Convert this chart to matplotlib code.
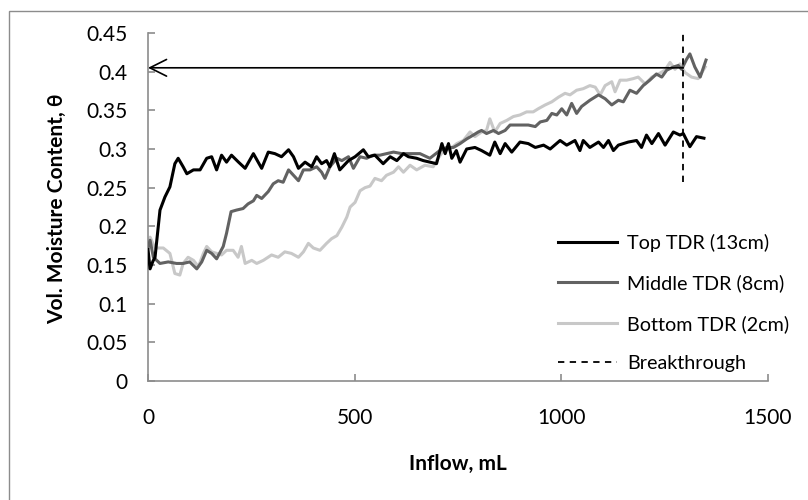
import matplotlib
matplotlib.use("Agg")
import matplotlib.pyplot as plt
from matplotlib.patches import Rectangle

plt.rcParams['font.family'] = ['Lato', 'DejaVu Sans']

# ---- data ----
top_x = [0, 5, 12, 17, 29, 41, 53, 65, 73, 85, 94, 110, 126, 142, 154, 166, 178, 190, 202, 219, 235,
         255, 275, 291, 307, 323, 340, 352, 364, 380, 396, 408, 420, 432, 440, 451, 464, 485, 501,
         521, 533, 549, 569, 586, 602, 618, 630, 650, 666, 682, 698, 711, 719, 727, 735, 746, 755,
         771, 791, 807, 827, 839, 852, 864, 880, 900, 920, 937, 957, 973, 997, 1013, 1033, 1045,
         1053, 1069, 1090, 1102, 1114, 1126, 1138, 1162, 1182, 1194, 1206, 1219, 1235, 1251, 1271,
         1287, 1295, 1311, 1327, 1345]
top_y = [0.170, 0.145, 0.155, 0.160, 0.221, 0.238, 0.251, 0.281, 0.288, 0.277, 0.268, 0.273, 0.273,
         0.288, 0.290, 0.273, 0.292, 0.283, 0.292, 0.283, 0.275, 0.294, 0.275, 0.296, 0.294, 0.290,
         0.299, 0.290, 0.275, 0.283, 0.277, 0.290, 0.281, 0.285, 0.277, 0.294, 0.273, 0.285, 0.290,
         0.299, 0.290, 0.292, 0.281, 0.290, 0.285, 0.294, 0.290, 0.288, 0.285, 0.283, 0.281, 0.307,
         0.294, 0.307, 0.288, 0.298, 0.283, 0.300, 0.302, 0.298, 0.292, 0.309, 0.294, 0.307, 0.296,
         0.309, 0.307, 0.302, 0.305, 0.300, 0.311, 0.305, 0.311, 0.298, 0.311, 0.302, 0.309, 0.302,
         0.311, 0.298, 0.305, 0.309, 0.311, 0.302, 0.318, 0.307, 0.320, 0.305, 0.322, 0.318, 0.320,
         0.303, 0.316, 0.314]

mid_x = [0, 5, 13, 29, 49, 69, 85, 101, 118, 130, 142, 154, 166, 182, 190, 201, 214, 230, 242, 255,
         263, 275, 291, 303, 315, 327, 340, 352, 364, 376, 392, 408, 420, 428, 440, 457, 469, 485,
         497, 513, 529, 545, 561, 577, 594, 614, 634, 658, 682, 706, 723, 739, 755, 771, 787, 799,
         807, 819, 836, 848, 864, 876, 892, 908, 920, 937, 949, 965, 977, 989, 1001, 1013, 1025,
         1037, 1049, 1069, 1090, 1106, 1122, 1138, 1150, 1166, 1182, 1198, 1214, 1230, 1243, 1255,
         1271, 1283, 1291, 1303, 1311, 1323, 1336, 1350]
mid_y = [0.172, 0.182, 0.160, 0.152, 0.154, 0.152, 0.152, 0.154, 0.145, 0.154, 0.169, 0.165, 0.158,
         0.174, 0.191, 0.219, 0.221, 0.223, 0.229, 0.233, 0.240, 0.236, 0.245, 0.255, 0.259, 0.257,
         0.273, 0.266, 0.259, 0.273, 0.273, 0.277, 0.270, 0.262, 0.277, 0.288, 0.285, 0.290, 0.275,
         0.290, 0.288, 0.292, 0.292, 0.294, 0.296, 0.294, 0.294, 0.294, 0.288, 0.298, 0.302, 0.302,
         0.307, 0.313, 0.318, 0.322, 0.324, 0.320, 0.324, 0.320, 0.324, 0.331, 0.331, 0.331, 0.331,
         0.329, 0.335, 0.337, 0.346, 0.344, 0.352, 0.344, 0.359, 0.346, 0.355, 0.363, 0.370, 0.365,
         0.357, 0.363, 0.361, 0.376, 0.372, 0.382, 0.389, 0.397, 0.393, 0.402, 0.406, 0.408, 0.403,
         0.416, 0.423, 0.406, 0.393, 0.415]

bot_x = [0, 5, 17, 37, 53, 65, 77, 85, 97, 110, 122, 134, 142, 154, 166, 178, 190, 206, 218, 226,
         235, 251, 263, 279, 299, 315, 331, 347, 364, 376, 388, 400, 416, 432, 444, 457, 469, 481,
         489, 501, 513, 525, 537, 549, 565, 577, 594, 606, 618, 634, 650, 670, 690, 702, 715, 731,
         747, 763, 779, 791, 807, 819, 827, 839, 852, 868, 884, 900, 916, 932, 944, 961, 977, 993,
         1009, 1021, 1037, 1053, 1069, 1082, 1094, 1106, 1122, 1130, 1142, 1158, 1174, 1186, 1203,
         1219, 1235, 1251, 1263, 1275, 1287, 1299, 1315, 1331, 1348]
bot_y = [0.175, 0.186, 0.172, 0.172, 0.165, 0.139, 0.137, 0.152, 0.160, 0.156, 0.148, 0.165, 0.174,
         0.167, 0.165, 0.163, 0.169, 0.169, 0.160, 0.174, 0.152, 0.156, 0.152, 0.156, 0.163, 0.160,
         0.167, 0.165, 0.160, 0.167, 0.178, 0.172, 0.169, 0.178, 0.184, 0.188, 0.199, 0.212, 0.225,
         0.231, 0.246, 0.250, 0.252, 0.262, 0.259, 0.266, 0.270, 0.277, 0.270, 0.279, 0.273, 0.279,
         0.277, 0.288, 0.298, 0.300, 0.307, 0.311, 0.322, 0.316, 0.322, 0.324, 0.339, 0.322, 0.333,
         0.337, 0.342, 0.344, 0.348, 0.348, 0.352, 0.357, 0.361, 0.367, 0.372, 0.370, 0.376, 0.378,
         0.382, 0.380, 0.370, 0.382, 0.387, 0.374, 0.389, 0.389, 0.391, 0.393, 0.384, 0.393, 0.397,
         0.402, 0.412, 0.403, 0.410, 0.399, 0.393, 0.391, 0.406]

breakthrough_x = 1295
breakthrough_y = [0.257, 0.45]
arrow_level = 0.405

series_labels = ["Top TDR (13cm)", "Middle TDR (8cm)", "Bottom TDR (2cm)", "Breakthrough"]
x_ticks = [0, 500, 1000, 1500]
y_ticks = [0, 0.05, 0.1, 0.15, 0.2, 0.25, 0.3, 0.35, 0.4, 0.45]
y_tick_labels = ["0", "0.05", "0.1", "0.15", "0.2", "0.25", "0.3", "0.35", "0.4", "0.45"]

# ---- figure ----
W, H = 808, 500
fig = plt.figure(figsize=(W / 100, H / 100), dpi=100)
ax = fig.add_axes([148 / W, 1 - 381 / H, (768 - 148) / W, (381 - 33) / H])

# outer chart-area border (extends beyond the canvas on right/bottom)
fig.patches.append(Rectangle((9 / W, -0.1), 1.2, 1.1 - 11 / H, transform=fig.transFigure,
                             fill=False, edgecolor="#8c8c8c", linewidth=1.0, clip_on=False))

ax.plot(top_x, top_y, color="#000000", lw=2.2, label=series_labels[0], zorder=4)
ax.plot(mid_x, mid_y, color="#626262", lw=2.2, label=series_labels[1], zorder=3)
ax.plot(bot_x, bot_y, color="#c8c8c8", lw=2.2, label=series_labels[2], zorder=2)
ax.plot([breakthrough_x, breakthrough_x], breakthrough_y, color="#000000", lw=1.3,
        linestyle=(0, (3.5, 3)), label=series_labels[3], zorder=5)

ax.annotate("", xy=(0, arrow_level), xytext=(breakthrough_x, arrow_level),
            arrowprops=dict(arrowstyle="->", color="#000000", lw=1.2, mutation_scale=30,
                            shrinkA=0, shrinkB=0), zorder=6)

ax.set_xlim(0, 1500)
ax.set_ylim(0, 0.45)
ax.set_xticks(x_ticks)
ax.set_yticks(y_ticks)
ax.set_yticklabels(y_tick_labels)

for s in ["top", "right"]:
    ax.spines[s].set_visible(False)
for s in ["left", "bottom"]:
    ax.spines[s].set_color("#8c8c8c")
    ax.spines[s].set_linewidth(1.2)

ax.tick_params(axis="both", direction="in", length=5, width=1.2, color="#8c8c8c",
               labelsize=15, labelcolor="#000000")
ax.tick_params(axis="x", pad=19.5)
ax.tick_params(axis="y", pad=15)

fig.text(458 / W, 1 - 464 / H, "Inflow, mL", fontsize=15, fontweight="bold",
         ha="center", va="center")
fig.text(57 / W, 1 - 209 / H, "Vol. Moisture Content, θ", fontsize=15, fontweight="bold",
         ha="center", va="center", rotation=90)

leg = ax.legend(loc="upper left", bbox_to_anchor=((550 - 148) / 620, (381 - 226) / 348),
                frameon=False, fontsize=14.2, handlelength=3.0, handletextpad=0.5,
                labelspacing=1.14, borderaxespad=0)

fig.savefig("out.png", dpi=100)
